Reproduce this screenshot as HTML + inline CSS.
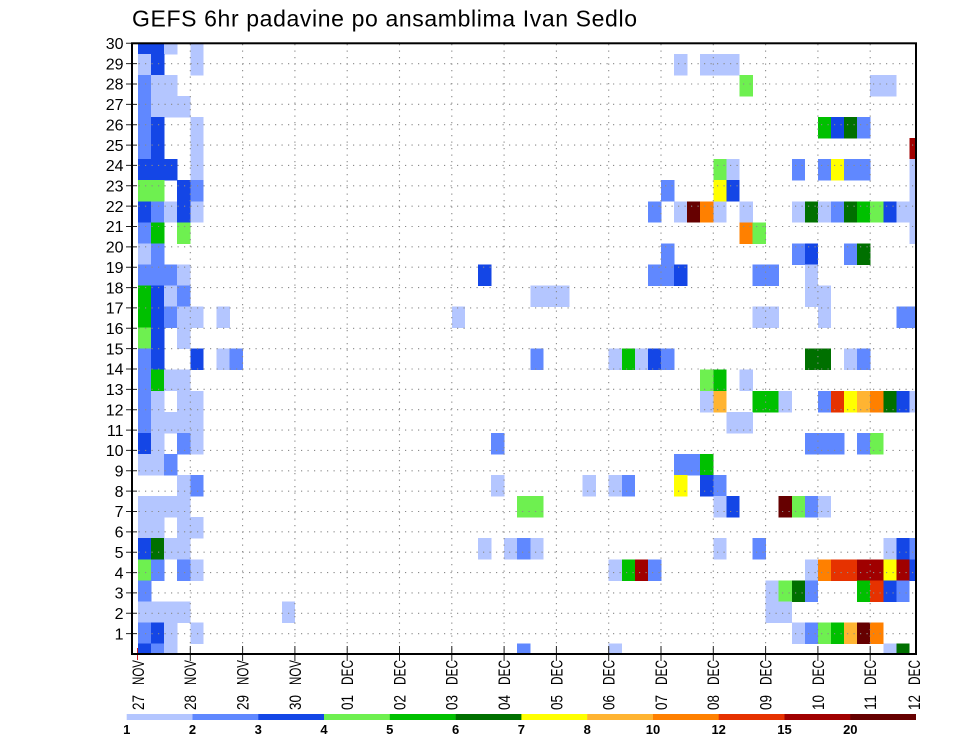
<!DOCTYPE html>
<html><head><meta charset="utf-8"><style>
html,body{margin:0;padding:0;background:#fff;}
svg{display:block;}
.a{fill:#b4c6ff}.b{fill:#6088ff}.c{fill:#1446e6}.d{fill:#6ef050}.e{fill:#00c000}.f{fill:#007000}
.g{fill:#ffff00}.h{fill:#ffb432}.i{fill:#ff8000}.r{fill:#e63200}.s{fill:#a00000}.t{fill:#660000}
text{font-family:"Liberation Sans",Arial,sans-serif;fill:#000;}
.yl{font-size:16px;text-anchor:end;}
.xl{font-size:16.5px;}
.cb{font-size:13px;font-weight:bold;text-anchor:middle;}
</style></head><body>
<svg width="960" height="742" viewBox="0 0 960 742" xmlns="http://www.w3.org/2000/svg">
<rect x="0" y="0" width="960" height="742" fill="#fff"/>
<text x="132" y="26.7" font-size="23" textLength="505" lengthAdjust="spacing">GEFS 6hr padavine po ansamblima Ivan Sedlo</text>
<defs><clipPath id="pc"><rect x="132" y="43.3" width="784" height="610.7"/></clipPath></defs>
<g clip-path="url(#pc)">
<g transform="translate(138,32.77) scale(13.075,21.06)" shape-rendering="crispEdges">
<g>
<rect x="0" y="0" width="1.02" height="1.02" class="c"/><rect x="1" y="0" width="1.02" height="1.02" class="c"/><rect x="2" y="0" width="1.02" height="1.02" class="a"/><rect x="4" y="0" width="1.02" height="1.02" class="a"/>
<rect x="0" y="1" width="1.02" height="1.02" class="a"/><rect x="1" y="1" width="1.02" height="1.02" class="c"/><rect x="4" y="1" width="1.02" height="1.02" class="a"/>
<rect x="41" y="1" width="1.02" height="1.02" class="a"/><rect x="43" y="1" width="1.02" height="1.02" class="a"/><rect x="44" y="1" width="1.02" height="1.02" class="a"/><rect x="45" y="1" width="1.02" height="1.02" class="a"/>
<rect x="0" y="2" width="1.02" height="1.02" class="b"/><rect x="1" y="2" width="1.02" height="1.02" class="a"/><rect x="2" y="2" width="1.02" height="1.02" class="a"/>
<rect x="46" y="2" width="1.02" height="1.02" class="d"/><rect x="56" y="2" width="1.02" height="1.02" class="a"/><rect x="57" y="2" width="1.02" height="1.02" class="a"/>
<rect x="0" y="3" width="1.02" height="1.02" class="b"/><rect x="1" y="3" width="1.02" height="1.02" class="a"/><rect x="2" y="3" width="1.02" height="1.02" class="a"/><rect x="3" y="3" width="1.02" height="1.02" class="a"/>
<rect x="0" y="4" width="1.02" height="1.02" class="b"/><rect x="1" y="4" width="1.02" height="1.02" class="c"/><rect x="4" y="4" width="1.02" height="1.02" class="a"/>
<rect x="52" y="4" width="1.02" height="1.02" class="e"/><rect x="53" y="4" width="1.02" height="1.02" class="c"/><rect x="54" y="4" width="1.02" height="1.02" class="f"/><rect x="55" y="4" width="1.02" height="1.02" class="b"/>
<rect x="0" y="5" width="1.02" height="1.02" class="b"/><rect x="1" y="5" width="1.02" height="1.02" class="c"/><rect x="4" y="5" width="1.02" height="1.02" class="a"/>
<rect x="59" y="5" width="1.02" height="1.02" class="s"/>
<rect x="0" y="6" width="1.02" height="1.02" class="c"/><rect x="1" y="6" width="1.02" height="1.02" class="c"/><rect x="2" y="6" width="1.02" height="1.02" class="c"/><rect x="4" y="6" width="1.02" height="1.02" class="a"/>
<rect x="44" y="6" width="1.02" height="1.02" class="d"/><rect x="45" y="6" width="1.02" height="1.02" class="a"/><rect x="50" y="6" width="1.02" height="1.02" class="b"/><rect x="52" y="6" width="1.02" height="1.02" class="b"/><rect x="53" y="6" width="1.02" height="1.02" class="g"/><rect x="54" y="6" width="1.02" height="1.02" class="b"/><rect x="55" y="6" width="1.02" height="1.02" class="b"/><rect x="59" y="6" width="1.02" height="1.02" class="a"/>
<rect x="0" y="7" width="1.02" height="1.02" class="d"/><rect x="1" y="7" width="1.02" height="1.02" class="d"/><rect x="3" y="7" width="1.02" height="1.02" class="c"/><rect x="4" y="7" width="1.02" height="1.02" class="b"/>
<rect x="40" y="7" width="1.02" height="1.02" class="b"/><rect x="44" y="7" width="1.02" height="1.02" class="g"/><rect x="45" y="7" width="1.02" height="1.02" class="c"/><rect x="59" y="7" width="1.02" height="1.02" class="a"/>
<rect x="0" y="8" width="1.02" height="1.02" class="c"/><rect x="1" y="8" width="1.02" height="1.02" class="b"/><rect x="2" y="8" width="1.02" height="1.02" class="a"/><rect x="3" y="8" width="1.02" height="1.02" class="c"/><rect x="4" y="8" width="1.02" height="1.02" class="a"/>
<rect x="39" y="8" width="1.02" height="1.02" class="b"/><rect x="41" y="8" width="1.02" height="1.02" class="a"/><rect x="42" y="8" width="1.02" height="1.02" class="t"/><rect x="43" y="8" width="1.02" height="1.02" class="i"/><rect x="44" y="8" width="1.02" height="1.02" class="a"/><rect x="46" y="8" width="1.02" height="1.02" class="a"/>
<rect x="50" y="8" width="1.02" height="1.02" class="a"/><rect x="51" y="8" width="1.02" height="1.02" class="f"/><rect x="52" y="8" width="1.02" height="1.02" class="a"/><rect x="53" y="8" width="1.02" height="1.02" class="b"/><rect x="54" y="8" width="1.02" height="1.02" class="f"/><rect x="55" y="8" width="1.02" height="1.02" class="e"/><rect x="56" y="8" width="1.02" height="1.02" class="d"/><rect x="57" y="8" width="1.02" height="1.02" class="c"/><rect x="58" y="8" width="1.02" height="1.02" class="a"/><rect x="59" y="8" width="1.02" height="1.02" class="a"/>
<rect x="0" y="9" width="1.02" height="1.02" class="b"/><rect x="1" y="9" width="1.02" height="1.02" class="e"/><rect x="3" y="9" width="1.02" height="1.02" class="d"/>
<rect x="46" y="9" width="1.02" height="1.02" class="i"/><rect x="47" y="9" width="1.02" height="1.02" class="d"/><rect x="59" y="9" width="1.02" height="1.02" class="a"/>
<rect x="0" y="10" width="1.02" height="1.02" class="a"/><rect x="1" y="10" width="1.02" height="1.02" class="b"/>
<rect x="40" y="10" width="1.02" height="1.02" class="b"/><rect x="50" y="10" width="1.02" height="1.02" class="b"/><rect x="51" y="10" width="1.02" height="1.02" class="c"/><rect x="54" y="10" width="1.02" height="1.02" class="b"/><rect x="55" y="10" width="1.02" height="1.02" class="f"/>
<rect x="0" y="11" width="1.02" height="1.02" class="b"/><rect x="1" y="11" width="1.02" height="1.02" class="b"/><rect x="2" y="11" width="1.02" height="1.02" class="b"/><rect x="3" y="11" width="1.02" height="1.02" class="a"/>
<rect x="26" y="11" width="1.02" height="1.02" class="c"/>
<rect x="39" y="11" width="1.02" height="1.02" class="b"/><rect x="40" y="11" width="1.02" height="1.02" class="b"/><rect x="41" y="11" width="1.02" height="1.02" class="c"/><rect x="47" y="11" width="1.02" height="1.02" class="b"/><rect x="48" y="11" width="1.02" height="1.02" class="b"/><rect x="51" y="11" width="1.02" height="1.02" class="a"/>
<rect x="0" y="12" width="1.02" height="1.02" class="e"/><rect x="1" y="12" width="1.02" height="1.02" class="c"/><rect x="2" y="12" width="1.02" height="1.02" class="a"/><rect x="3" y="12" width="1.02" height="1.02" class="b"/>
<rect x="30" y="12" width="1.02" height="1.02" class="a"/><rect x="31" y="12" width="1.02" height="1.02" class="a"/><rect x="32" y="12" width="1.02" height="1.02" class="a"/>
<rect x="51" y="12" width="1.02" height="1.02" class="a"/><rect x="52" y="12" width="1.02" height="1.02" class="a"/>
<rect x="0" y="13" width="1.02" height="1.02" class="e"/><rect x="1" y="13" width="1.02" height="1.02" class="c"/><rect x="2" y="13" width="1.02" height="1.02" class="b"/><rect x="3" y="13" width="1.02" height="1.02" class="a"/><rect x="4" y="13" width="1.02" height="1.02" class="a"/><rect x="6" y="13" width="1.02" height="1.02" class="a"/>
<rect x="24" y="13" width="1.02" height="1.02" class="a"/>
<rect x="47" y="13" width="1.02" height="1.02" class="a"/><rect x="48" y="13" width="1.02" height="1.02" class="a"/><rect x="52" y="13" width="1.02" height="1.02" class="a"/><rect x="58" y="13" width="1.02" height="1.02" class="b"/><rect x="59" y="13" width="1.02" height="1.02" class="b"/>
<rect x="0" y="14" width="1.02" height="1.02" class="d"/><rect x="1" y="14" width="1.02" height="1.02" class="c"/><rect x="3" y="14" width="1.02" height="1.02" class="a"/>
<rect x="0" y="15" width="1.02" height="1.02" class="b"/><rect x="1" y="15" width="1.02" height="1.02" class="c"/><rect x="4" y="15" width="1.02" height="1.02" class="c"/><rect x="6" y="15" width="1.02" height="1.02" class="a"/><rect x="7" y="15" width="1.02" height="1.02" class="b"/>
<rect x="30" y="15" width="1.02" height="1.02" class="b"/><rect x="36" y="15" width="1.02" height="1.02" class="a"/><rect x="37" y="15" width="1.02" height="1.02" class="e"/><rect x="38" y="15" width="1.02" height="1.02" class="a"/><rect x="39" y="15" width="1.02" height="1.02" class="c"/><rect x="40" y="15" width="1.02" height="1.02" class="b"/>
<rect x="51" y="15" width="1.02" height="1.02" class="f"/><rect x="52" y="15" width="1.02" height="1.02" class="f"/><rect x="54" y="15" width="1.02" height="1.02" class="a"/><rect x="55" y="15" width="1.02" height="1.02" class="b"/>
<rect x="0" y="16" width="1.02" height="1.02" class="b"/><rect x="1" y="16" width="1.02" height="1.02" class="e"/><rect x="2" y="16" width="1.02" height="1.02" class="a"/><rect x="3" y="16" width="1.02" height="1.02" class="a"/>
<rect x="43" y="16" width="1.02" height="1.02" class="d"/><rect x="44" y="16" width="1.02" height="1.02" class="e"/><rect x="46" y="16" width="1.02" height="1.02" class="a"/>
<rect x="0" y="17" width="1.02" height="1.02" class="b"/><rect x="1" y="17" width="1.02" height="1.02" class="a"/><rect x="3" y="17" width="1.02" height="1.02" class="a"/><rect x="4" y="17" width="1.02" height="1.02" class="a"/>
<rect x="43" y="17" width="1.02" height="1.02" class="a"/><rect x="44" y="17" width="1.02" height="1.02" class="h"/><rect x="47" y="17" width="1.02" height="1.02" class="e"/><rect x="48" y="17" width="1.02" height="1.02" class="e"/><rect x="49" y="17" width="1.02" height="1.02" class="a"/>
<rect x="52" y="17" width="1.02" height="1.02" class="b"/><rect x="53" y="17" width="1.02" height="1.02" class="r"/><rect x="54" y="17" width="1.02" height="1.02" class="g"/><rect x="55" y="17" width="1.02" height="1.02" class="h"/><rect x="56" y="17" width="1.02" height="1.02" class="i"/><rect x="57" y="17" width="1.02" height="1.02" class="f"/><rect x="58" y="17" width="1.02" height="1.02" class="c"/><rect x="59" y="17" width="1.02" height="1.02" class="a"/>
<rect x="0" y="18" width="1.02" height="1.02" class="b"/><rect x="1" y="18" width="1.02" height="1.02" class="a"/><rect x="2" y="18" width="1.02" height="1.02" class="a"/><rect x="3" y="18" width="1.02" height="1.02" class="a"/><rect x="4" y="18" width="1.02" height="1.02" class="a"/>
<rect x="45" y="18" width="1.02" height="1.02" class="a"/><rect x="46" y="18" width="1.02" height="1.02" class="a"/>
<rect x="0" y="19" width="1.02" height="1.02" class="c"/><rect x="1" y="19" width="1.02" height="1.02" class="a"/><rect x="3" y="19" width="1.02" height="1.02" class="b"/><rect x="4" y="19" width="1.02" height="1.02" class="a"/>
<rect x="27" y="19" width="1.02" height="1.02" class="b"/>
<rect x="51" y="19" width="1.02" height="1.02" class="b"/><rect x="52" y="19" width="1.02" height="1.02" class="b"/><rect x="53" y="19" width="1.02" height="1.02" class="b"/><rect x="55" y="19" width="1.02" height="1.02" class="b"/><rect x="56" y="19" width="1.02" height="1.02" class="d"/>
<rect x="0" y="20" width="1.02" height="1.02" class="a"/><rect x="1" y="20" width="1.02" height="1.02" class="a"/><rect x="2" y="20" width="1.02" height="1.02" class="b"/>
<rect x="41" y="20" width="1.02" height="1.02" class="b"/><rect x="42" y="20" width="1.02" height="1.02" class="b"/><rect x="43" y="20" width="1.02" height="1.02" class="e"/>
<rect x="3" y="21" width="1.02" height="1.02" class="a"/><rect x="4" y="21" width="1.02" height="1.02" class="b"/>
<rect x="27" y="21" width="1.02" height="1.02" class="a"/><rect x="34" y="21" width="1.02" height="1.02" class="a"/><rect x="36" y="21" width="1.02" height="1.02" class="a"/><rect x="37" y="21" width="1.02" height="1.02" class="b"/>
<rect x="41" y="21" width="1.02" height="1.02" class="g"/><rect x="43" y="21" width="1.02" height="1.02" class="c"/><rect x="44" y="21" width="1.02" height="1.02" class="b"/>
<rect x="0" y="22" width="1.02" height="1.02" class="a"/><rect x="1" y="22" width="1.02" height="1.02" class="a"/><rect x="2" y="22" width="1.02" height="1.02" class="a"/><rect x="3" y="22" width="1.02" height="1.02" class="a"/>
<rect x="29" y="22" width="1.02" height="1.02" class="d"/><rect x="30" y="22" width="1.02" height="1.02" class="d"/>
<rect x="44" y="22" width="1.02" height="1.02" class="a"/><rect x="45" y="22" width="1.02" height="1.02" class="c"/><rect x="49" y="22" width="1.02" height="1.02" class="t"/><rect x="50" y="22" width="1.02" height="1.02" class="d"/><rect x="51" y="22" width="1.02" height="1.02" class="b"/><rect x="52" y="22" width="1.02" height="1.02" class="a"/>
<rect x="0" y="23" width="1.02" height="1.02" class="a"/><rect x="1" y="23" width="1.02" height="1.02" class="a"/><rect x="3" y="23" width="1.02" height="1.02" class="a"/><rect x="4" y="23" width="1.02" height="1.02" class="a"/>
<rect x="0" y="24" width="1.02" height="1.02" class="c"/><rect x="1" y="24" width="1.02" height="1.02" class="f"/><rect x="2" y="24" width="1.02" height="1.02" class="a"/><rect x="3" y="24" width="1.02" height="1.02" class="a"/>
<rect x="26" y="24" width="1.02" height="1.02" class="a"/><rect x="28" y="24" width="1.02" height="1.02" class="a"/><rect x="29" y="24" width="1.02" height="1.02" class="b"/><rect x="30" y="24" width="1.02" height="1.02" class="a"/>
<rect x="44" y="24" width="1.02" height="1.02" class="a"/><rect x="47" y="24" width="1.02" height="1.02" class="b"/><rect x="57" y="24" width="1.02" height="1.02" class="a"/><rect x="58" y="24" width="1.02" height="1.02" class="c"/><rect x="59" y="24" width="1.02" height="1.02" class="b"/>
<rect x="0" y="25" width="1.02" height="1.02" class="d"/><rect x="1" y="25" width="1.02" height="1.02" class="b"/><rect x="3" y="25" width="1.02" height="1.02" class="b"/><rect x="4" y="25" width="1.02" height="1.02" class="a"/>
<rect x="36" y="25" width="1.02" height="1.02" class="a"/><rect x="37" y="25" width="1.02" height="1.02" class="e"/><rect x="38" y="25" width="1.02" height="1.02" class="s"/><rect x="39" y="25" width="1.02" height="1.02" class="b"/>
<rect x="51" y="25" width="1.02" height="1.02" class="a"/><rect x="52" y="25" width="1.02" height="1.02" class="i"/><rect x="53" y="25" width="1.02" height="1.02" class="r"/><rect x="54" y="25" width="1.02" height="1.02" class="r"/><rect x="55" y="25" width="1.02" height="1.02" class="s"/><rect x="56" y="25" width="1.02" height="1.02" class="s"/><rect x="57" y="25" width="1.02" height="1.02" class="g"/><rect x="58" y="25" width="1.02" height="1.02" class="s"/><rect x="59" y="25" width="1.02" height="1.02" class="c"/>
<rect x="0" y="26" width="1.02" height="1.02" class="b"/>
<rect x="48" y="26" width="1.02" height="1.02" class="a"/><rect x="49" y="26" width="1.02" height="1.02" class="d"/><rect x="50" y="26" width="1.02" height="1.02" class="f"/><rect x="51" y="26" width="1.02" height="1.02" class="b"/><rect x="55" y="26" width="1.02" height="1.02" class="e"/><rect x="56" y="26" width="1.02" height="1.02" class="r"/><rect x="57" y="26" width="1.02" height="1.02" class="c"/><rect x="58" y="26" width="1.02" height="1.02" class="b"/>
<rect x="0" y="27" width="1.02" height="1.02" class="a"/><rect x="1" y="27" width="1.02" height="1.02" class="a"/><rect x="2" y="27" width="1.02" height="1.02" class="a"/><rect x="3" y="27" width="1.02" height="1.02" class="a"/>
<rect x="11" y="27" width="1.02" height="1.02" class="a"/>
<rect x="48" y="27" width="1.02" height="1.02" class="a"/><rect x="49" y="27" width="1.02" height="1.02" class="a"/>
<rect x="0" y="28" width="1.02" height="1.02" class="b"/><rect x="1" y="28" width="1.02" height="1.02" class="c"/><rect x="2" y="28" width="1.02" height="1.02" class="a"/><rect x="4" y="28" width="1.02" height="1.02" class="a"/>
<rect x="50" y="28" width="1.02" height="1.02" class="a"/><rect x="51" y="28" width="1.02" height="1.02" class="b"/><rect x="52" y="28" width="1.02" height="1.02" class="d"/><rect x="53" y="28" width="1.02" height="1.02" class="e"/><rect x="54" y="28" width="1.02" height="1.02" class="h"/><rect x="55" y="28" width="1.02" height="1.02" class="t"/><rect x="56" y="28" width="1.02" height="1.02" class="i"/>
<rect x="0" y="29" width="1.02" height="1.02" class="c"/><rect x="1" y="29" width="1.02" height="1.02" class="b"/><rect x="2" y="29" width="1.02" height="1.02" class="a"/>
<rect x="29" y="29" width="1.02" height="1.02" class="b"/><rect x="36" y="29" width="1.02" height="1.02" class="a"/><rect x="57" y="29" width="1.02" height="1.02" class="a"/><rect x="58" y="29" width="1.02" height="1.02" class="f"/>
</g>
</g>
<path fill="none" stroke="#8a8a8a" stroke-width="1.1" stroke-dasharray="1.2 5.3" d="M132 633.64H916M132 613.29H916M132 592.93H916M132 572.57H916M132 552.22H916M132 531.86H916M132 511.5H916M132 491.14H916M132 470.79H916M132 450.43H916M132 430.07H916M132 409.72H916M132 389.36H916M132 369H916M132 348.65H916M132 328.29H916M132 307.93H916M132 287.57H916M132 267.22H916M132 246.86H916M132 226.5H916M132 206.15H916M132 185.79H916M132 165.43H916M132 145.08H916M132 124.72H916M132 104.36H916M132 84H916M132 63.65H916"/>
<path fill="none" stroke="#8a8a8a" stroke-width="1.1" stroke-dasharray="1.2 5.3" d="M190.3 44V654M242.6 44V654M294.9 44V654M347.2 44V654M399.5 44V654M451.8 44V654M504.1 44V654M556.4 44V654M608.7 44V654M661 44V654M713.3 44V654M765.6 44V654M817.9 44V654M870.2 44V654"/>
</g>
<path fill="none" stroke="#222" stroke-width="1" d="M126 633.64H137M126 613.29H137M126 592.93H137M126 572.57H137M126 552.22H137M126 531.86H137M126 511.5H137M126 491.14H137M126 470.79H137M126 450.43H137M126 430.07H137M126 409.72H137M126 389.36H137M126 369H137M126 348.65H137M126 328.29H137M126 307.93H137M126 287.57H137M126 267.22H137M126 246.86H137M126 226.5H137M126 206.15H137M126 185.79H137M126 165.43H137M126 145.08H137M126 124.72H137M126 104.36H137M126 84H137M126 63.65H137M126 43.3H137"/>
<path fill="none" stroke="#222" stroke-width="1" d="M190.3 646V661M242.6 646V661M294.9 646V661M347.2 646V661M399.5 646V661M451.8 646V661M504.1 646V661M556.4 646V661M608.7 646V661M661 646V661M713.3 646V661M765.6 646V661M817.9 646V661M870.2 646V661"/>
<path fill="none" stroke="#d02020" stroke-width="1" d="M137.5 648V660"/>
<rect x="132" y="43.3" width="784" height="610.7" fill="none" stroke="#000" stroke-width="2"/>
<g class="yl">
<text x="123.5" y="639.3">1</text><text x="123.5" y="619">2</text><text x="123.5" y="598.6">3</text><text x="123.5" y="578.3">4</text><text x="123.5" y="557.9">5</text>
<text x="123.5" y="537.6">6</text><text x="123.5" y="517.2">7</text><text x="123.5" y="496.8">8</text><text x="123.5" y="476.5">9</text><text x="123.5" y="456.1">10</text>
<text x="123.5" y="435.8">11</text><text x="123.5" y="415.4">12</text><text x="123.5" y="395.1">13</text><text x="123.5" y="374.7">14</text><text x="123.5" y="354.4">15</text>
<text x="123.5" y="334">16</text><text x="123.5" y="313.6">17</text><text x="123.5" y="293.3">18</text><text x="123.5" y="272.9">19</text><text x="123.5" y="252.6">20</text>
<text x="123.5" y="232.2">21</text><text x="123.5" y="211.9">22</text><text x="123.5" y="191.5">23</text><text x="123.5" y="171.1">24</text><text x="123.5" y="150.8">25</text>
<text x="123.5" y="130.4">26</text><text x="123.5" y="110.1">27</text><text x="123.5" y="89.7">28</text><text x="123.5" y="69.4">29</text><text x="123.5" y="49">30</text>
</g>
<g class="xl">
<text transform="translate(143.9,685) rotate(-90)" textLength="25" lengthAdjust="spacingAndGlyphs">NOV</text><text transform="translate(143.9,710) rotate(-90)" textLength="15" lengthAdjust="spacingAndGlyphs">27</text>
<text transform="translate(196.2,685) rotate(-90)" textLength="25" lengthAdjust="spacingAndGlyphs">NOV</text><text transform="translate(196.2,710) rotate(-90)" textLength="15" lengthAdjust="spacingAndGlyphs">28</text>
<text transform="translate(248.5,685) rotate(-90)" textLength="25" lengthAdjust="spacingAndGlyphs">NOV</text><text transform="translate(248.5,710) rotate(-90)" textLength="15" lengthAdjust="spacingAndGlyphs">29</text>
<text transform="translate(300.8,685) rotate(-90)" textLength="25" lengthAdjust="spacingAndGlyphs">NOV</text><text transform="translate(300.8,710) rotate(-90)" textLength="15" lengthAdjust="spacingAndGlyphs">30</text>
<text transform="translate(353.1,685) rotate(-90)" textLength="25" lengthAdjust="spacingAndGlyphs">DEC</text><text transform="translate(353.1,710) rotate(-90)" textLength="15" lengthAdjust="spacingAndGlyphs">01</text>
<text transform="translate(405.4,685) rotate(-90)" textLength="25" lengthAdjust="spacingAndGlyphs">DEC</text><text transform="translate(405.4,710) rotate(-90)" textLength="15" lengthAdjust="spacingAndGlyphs">02</text>
<text transform="translate(457.7,685) rotate(-90)" textLength="25" lengthAdjust="spacingAndGlyphs">DEC</text><text transform="translate(457.7,710) rotate(-90)" textLength="15" lengthAdjust="spacingAndGlyphs">03</text>
<text transform="translate(510,685) rotate(-90)" textLength="25" lengthAdjust="spacingAndGlyphs">DEC</text><text transform="translate(510,710) rotate(-90)" textLength="15" lengthAdjust="spacingAndGlyphs">04</text>
<text transform="translate(562.3,685) rotate(-90)" textLength="25" lengthAdjust="spacingAndGlyphs">DEC</text><text transform="translate(562.3,710) rotate(-90)" textLength="15" lengthAdjust="spacingAndGlyphs">05</text>
<text transform="translate(614.6,685) rotate(-90)" textLength="25" lengthAdjust="spacingAndGlyphs">DEC</text><text transform="translate(614.6,710) rotate(-90)" textLength="15" lengthAdjust="spacingAndGlyphs">06</text>
<text transform="translate(666.9,685) rotate(-90)" textLength="25" lengthAdjust="spacingAndGlyphs">DEC</text><text transform="translate(666.9,710) rotate(-90)" textLength="15" lengthAdjust="spacingAndGlyphs">07</text>
<text transform="translate(719.2,685) rotate(-90)" textLength="25" lengthAdjust="spacingAndGlyphs">DEC</text><text transform="translate(719.2,710) rotate(-90)" textLength="15" lengthAdjust="spacingAndGlyphs">08</text>
<text transform="translate(771.5,685) rotate(-90)" textLength="25" lengthAdjust="spacingAndGlyphs">DEC</text><text transform="translate(771.5,710) rotate(-90)" textLength="15" lengthAdjust="spacingAndGlyphs">09</text>
<text transform="translate(823.8,685) rotate(-90)" textLength="25" lengthAdjust="spacingAndGlyphs">DEC</text><text transform="translate(823.8,710) rotate(-90)" textLength="15" lengthAdjust="spacingAndGlyphs">10</text>
<text transform="translate(876.1,685) rotate(-90)" textLength="25" lengthAdjust="spacingAndGlyphs">DEC</text><text transform="translate(876.1,710) rotate(-90)" textLength="15" lengthAdjust="spacingAndGlyphs">11</text>
<text transform="translate(920,685) rotate(-90)" textLength="25" lengthAdjust="spacingAndGlyphs">DEC</text><text transform="translate(920,710) rotate(-90)" textLength="15" lengthAdjust="spacingAndGlyphs">12</text>
</g>
<g>
<rect x="126.7" y="714" width="66" height="6" class="a"/>
<rect x="192.5" y="714" width="66" height="6" class="b"/>
<rect x="258.3" y="714" width="66" height="6" class="c"/>
<rect x="324" y="714" width="66" height="6" class="d"/>
<rect x="389.8" y="714" width="66" height="6" class="e"/>
<rect x="455.6" y="714" width="66" height="6" class="f"/>
<rect x="521.4" y="714" width="66" height="6" class="g"/>
<rect x="587.2" y="714" width="66" height="6" class="h"/>
<rect x="653" y="714" width="66" height="6" class="i"/>
<rect x="718.7" y="714" width="66" height="6" class="r"/>
<rect x="784.5" y="714" width="66" height="6" class="s"/>
<rect x="850.3" y="714" width="65.7" height="6" class="t"/>
</g>
<g class="cb">
<text x="126.7" y="734">1</text><text x="192.5" y="734">2</text><text x="258.3" y="734">3</text><text x="324" y="734">4</text>
<text x="389.8" y="734">5</text><text x="455.6" y="734">6</text><text x="521.4" y="734">7</text><text x="587.2" y="734">8</text>
<text x="653" y="734">10</text><text x="718.7" y="734">12</text><text x="784.5" y="734">15</text><text x="850.3" y="734">20</text>
</g>
</svg>
</body></html>
